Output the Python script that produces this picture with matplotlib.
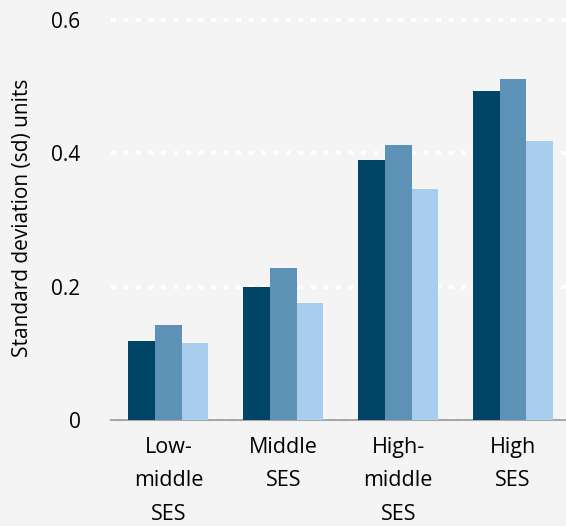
import numpy as np
import matplotlib.pyplot as plt

categories = ["Low-\nmiddle\nSES", "Middle\nSES", "High-\nmiddle\nSES", "High\nSES"]
series_a = [0.118, 0.199, 0.390, 0.494]
series_b = [0.142, 0.228, 0.413, 0.512]
series_c = [0.115, 0.175, 0.346, 0.419]
colors = ["#004466", "#5e91b6", "#a9cdee"]

plt.rcParams['font.family'] = ['Open Sans', 'DejaVu Sans']

fig = plt.figure(figsize=(5.66, 5.26), dpi=100)
fig.patch.set_facecolor("#f4f4f4")
ax = fig.add_axes([0.196, 0.2015, 0.804, 0.786])
ax.set_facecolor("#f4f4f4")

x = np.arange(len(categories))
w = 0.232
for i, (vals, c) in enumerate(zip([series_a, series_b, series_c], colors)):
    ax.bar(x + (i - 1) * w, vals, width=w, color=c, zorder=3)

ax.set_xlim(-0.5, 3.46)
ax.set_ylim(0, 0.62)
ax.set_yticks([0, 0.2, 0.4, 0.6])
ax.set_yticklabels(["0", "0.2", "0.4", "0.6"])
ax.set_xticks(x)
ax.set_xticklabels(categories, linespacing=1.8)
ax.tick_params(axis='y', length=0, pad=22, labelsize=15)
ax.tick_params(axis='x', length=0, pad=12, labelsize=15.5)
ax.yaxis.grid(True, color="white", linestyle=(0, (1.2, 1.8)), linewidth=3, zorder=0)
ax.set_axisbelow(True)
for s in ["top", "right", "left"]:
    ax.spines[s].set_visible(False)
ax.spines["bottom"].set_color("#a8a8a8")
ax.spines["bottom"].set_linewidth(1.5)
ax.set_ylabel("Standard deviation (sd) units", fontsize=15)
ax.yaxis.set_label_coords(-0.171, 0.489)

fig.savefig("out.png", dpi=100, facecolor=fig.get_facecolor())
